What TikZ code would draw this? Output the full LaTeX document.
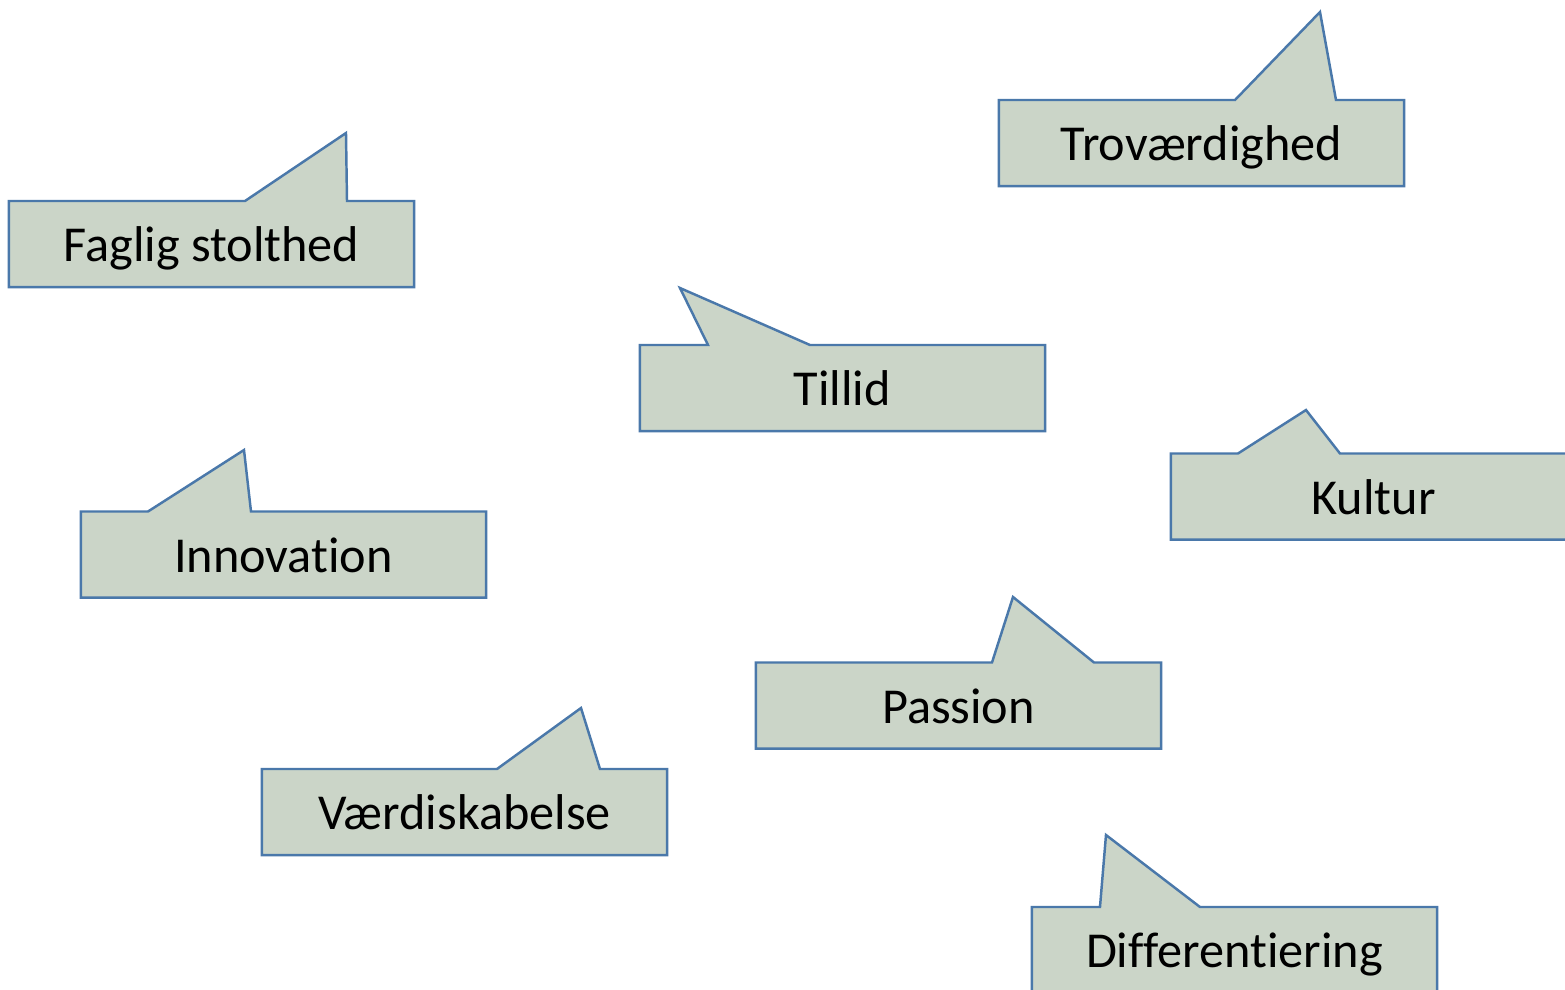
\documentclass[tikz,border=0pt]{standalone}
\usepackage{fontspec}
\setmainfont{Carlito}[Ligatures=NoCommon]
\usepackage{xcolor}
\usetikzlibrary{backgrounds}
\definecolor{boxfill}{RGB}{203,213,200}
\definecolor{boxline}{RGB}{74,120,170}
\tikzset{label/.style={minimum width=4.05cm, minimum height=0.86cm, inner sep=0pt, outer sep=0pt, text height=13pt, text depth=2.8pt, font=\fontsize{14.3}{17}\selectfont}}
\tikzset{bubble/.style={draw=boxline, fill=boxfill, line width=0.7pt, line join=miter}}

\begin{document}
\begin{tikzpicture}[x=0.01cm, y=-0.01cm]
  \useasboundingbox (0,0) rectangle (1565,990);
  \clip (0,0) rectangle (1565,990);

  \node[label] (fag) at (211.5,244) {Faglig stolthed};
  \node[label] (trov) at (1201.5,143) {Troværdighed};
  \node[label] (till) at (842.5,388) {Tillid};
  \node[label] (kult) at (1373.5,496.5) {Kultur};
  \node[label] (inno) at (283.5,554.5) {Innovation};
  \node[label] (pass) at (958.5,705.5) {Passion};
  \node[label] (vaerd) at (464.5,812) {Værdiskabelse};
  \node[label] (diff) at (1234.5,950) {Differentiering};

  % speech bubbles behind the words: box with a spike on top
  \begin{scope}[on background layer]
  \draw[bubble] (fag.south west) -- (fag.north west) -- (245,201) -- (346,133) -- (347,201) -- (fag.north east) -- (fag.south east) -- cycle;
  \draw[bubble] (trov.south west) -- (trov.north west) -- (1235,100) -- (1320,12) -- (1336,100) -- (trov.north east) -- (trov.south east) -- cycle;
  \draw[bubble] (till.south west) -- (till.north west) -- (708,345) -- (680,288) -- (810,345) -- (till.north east) -- (till.south east) -- cycle;
  \draw[bubble] (kult.south west) -- (kult.north west) -- (1238,453.5) -- (1306,410) -- (1340,453.5) -- (kult.north east) -- (kult.south east) -- cycle;
  \draw[bubble] (inno.south west) -- (inno.north west) -- (148,511.5) -- (244,450) -- (251,511.5) -- (inno.north east) -- (inno.south east) -- cycle;
  \draw[bubble] (pass.south west) -- (pass.north west) -- (992,662.5) -- (1013,597) -- (1094,662.5) -- (pass.north east) -- (pass.south east) -- cycle;
  \draw[bubble] (vaerd.south west) -- (vaerd.north west) -- (497,769) -- (581,708) -- (600,769) -- (vaerd.north east) -- (vaerd.south east) -- cycle;
  \draw[bubble] (diff.south west) -- (diff.north west) -- (1100,907) -- (1106,835) -- (1200,907) -- (diff.north east) -- (diff.south east) -- cycle;
  \end{scope}
\end{tikzpicture}
\end{document}
